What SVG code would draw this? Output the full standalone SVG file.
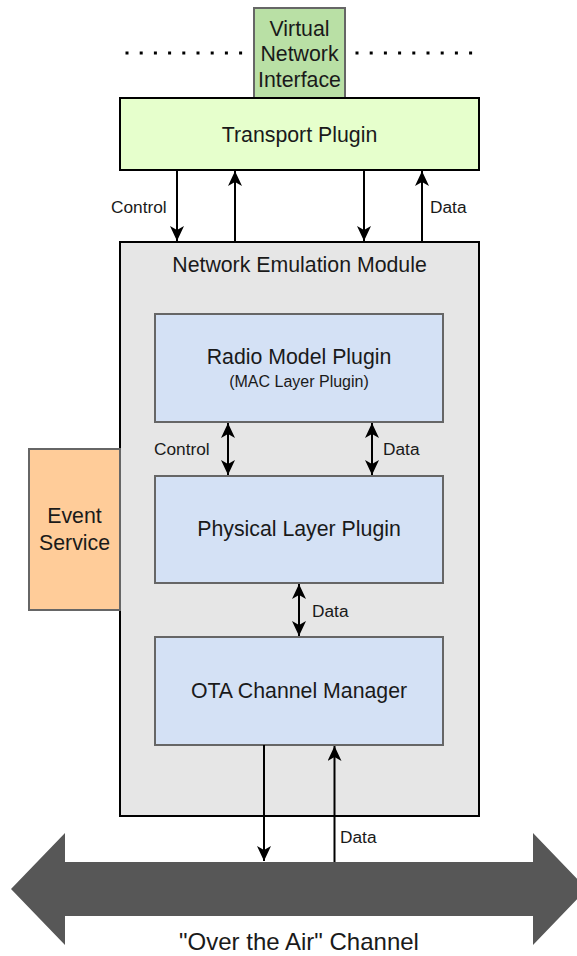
<svg xmlns="http://www.w3.org/2000/svg" width="577" height="956" viewBox="0 0 577 956">
<style>
text{font-family:"Liberation Sans",Arial,sans-serif;fill:#1a1a1a;text-anchor:middle}
.big{font-size:21.3px}
.sm{font-size:17.3px}
.lbl{font-size:17.3px;text-anchor:start}
.blue{fill:#D4E1F5;stroke:#666;stroke-width:2}
.conn{stroke:#000;stroke-width:2;fill:none}
</style>
<defs>
<marker id="ah" markerUnits="userSpaceOnUse" markerWidth="16" markerHeight="14" refX="15" refY="7" orient="auto-start-reverse">
<path d="M0,0 L15,7 L0,14 L4,7 z" fill="#000"/>
</marker>
</defs>
<g id="dots">
<line x1="125.5" y1="53" x2="244" y2="53" stroke="#000" stroke-width="3" stroke-dasharray="3 11.2"/>
<line x1="355.5" y1="53" x2="474" y2="53" stroke="#000" stroke-width="3" stroke-dasharray="3 11.2"/>
</g>
<g id="vni">
<rect x="254" y="8" width="91" height="90" fill="#B9E0A5" stroke="#666" stroke-width="2"/>
<text class="big" x="299.5" y="35.5">Virtual</text>
<text class="big" x="299.5" y="61">Network</text>
<text class="big" x="299.5" y="86.5">Interface</text>
</g>
<g id="transport">
<rect x="120" y="98" width="359" height="72" fill="#E6FFCC" stroke="#000" stroke-width="2"/>
<text class="big" x="299.5" y="141.5">Transport Plugin</text>
</g>
<g id="module">
<rect x="120" y="242" width="359" height="574" fill="#E6E6E6" stroke="#000" stroke-width="2"/>
<text class="big" x="299.5" y="272">Network Emulation Module</text>
</g>
<g id="radio">
<rect class="blue" x="155" y="314" width="288" height="108"/>
<text class="big" x="299" y="364">Radio Model Plugin</text>
<text x="299" y="387" style="font-size:16px">(MAC Layer Plugin)</text>
</g>
<g id="phy">
<rect class="blue" x="155" y="476" width="288" height="107"/>
<text class="big" x="299" y="536">Physical Layer Plugin</text>
</g>
<g id="ota">
<rect class="blue" x="155" y="637" width="288" height="108"/>
<text class="big" x="299" y="698">OTA Channel Manager</text>
</g>
<g id="event">
<rect x="29" y="449" width="91" height="161" fill="#FFCC99" stroke="#666" stroke-width="2"/>
<text class="big" x="74.5" y="523">Event</text>
<text class="big" x="74.5" y="550">Service</text>
</g>
<g id="channel">
<path d="M11,889 L65,833 L65,862 L533,862 L533,833 L587,889 L533,945 L533,916 L65,916 L65,945 Z" fill="#575757"/>
<text x="299" y="950" style="font-size:24px">"Over the Air" Channel</text>
</g>
<g id="connectors">
<line class="conn" x1="177" y1="170" x2="177" y2="241" marker-end="url(#ah)"/>
<line class="conn" x1="235" y1="242" x2="235" y2="171" marker-end="url(#ah)"/>
<line class="conn" x1="364" y1="170" x2="364" y2="241" marker-end="url(#ah)"/>
<line class="conn" x1="422" y1="242" x2="422" y2="171" marker-end="url(#ah)"/>
<text class="lbl" x="111" y="213">Control</text>
<text class="lbl" x="430" y="213">Data</text>
<line class="conn" x1="228" y1="423" x2="228" y2="475" marker-start="url(#ah)" marker-end="url(#ah)"/>
<line class="conn" x1="372" y1="423" x2="372" y2="475" marker-start="url(#ah)" marker-end="url(#ah)"/>
<text class="lbl" x="154" y="455">Control</text>
<text class="lbl" x="383" y="455">Data</text>
<line class="conn" x1="299" y1="584" x2="299" y2="636" marker-start="url(#ah)" marker-end="url(#ah)"/>
<text class="lbl" x="312" y="617">Data</text>
<line class="conn" x1="264" y1="745" x2="264" y2="861" marker-end="url(#ah)"/>
<line class="conn" x1="334.5" y1="862" x2="334.5" y2="746" marker-end="url(#ah)"/>
<text class="lbl" x="340" y="843">Data</text>
</g>
</svg>
